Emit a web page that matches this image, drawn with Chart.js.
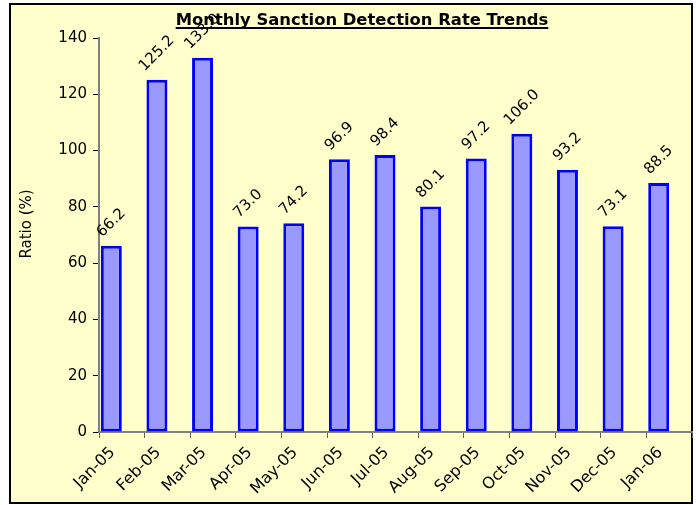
<!DOCTYPE html>
<html>
<head>
<meta charset="utf-8">
<script src="https://cdn.jsdelivr.net/npm/chart.js@4/dist/chart.umd.min.js"></script>
<style>
html,body{margin:0;padding:0;background:#fff;}
#wrap{width:696px;height:505px;position:relative;}
</style>
</head>
<body>
<div id="wrap"><canvas id="c" width="696" height="505"></canvas></div>
<script>
const categories = ['Jan-05','Feb-05','Mar-05','Apr-05','May-05','Jun-05','Jul-05','Aug-05','Sep-05','Oct-05','Nov-05','Dec-05','Jan-06'];
const ratioValues = [66.2,125.2,133.0,73.0,74.2,96.9,98.4,80.1,97.2,106.0,93.2,73.1,88.5];
const emptySeries = [null,null,null,null,null,null,null,null,null,null,null,null,null];
const yMin = 0, yMax = 140, yStep = 20;
const chartTitle = 'Monthly Sanction Detection Rate Trends';
const yTitle = 'Ratio (%)';

const FONT = '"DejaVu Sans", Verdana, sans-serif';

const frame = {
  id: 'frame',
  beforeDraw(chart) {
    const ctx = chart.ctx;
    ctx.save();
    ctx.fillStyle = '#ffffff';
    ctx.fillRect(0, 0, chart.width, chart.height);
    ctx.fillStyle = '#FFFFCC';
    ctx.fillRect(10, 4, 682, 499);
    ctx.strokeStyle = '#000000';
    ctx.lineWidth = 2;
    ctx.strokeRect(10, 4, 682, 499);
    ctx.restore();
  },
  afterDatasetsDraw(chart) {
    const ctx = chart.ctx;
    ctx.save();
    ctx.beginPath();
    ctx.rect(11, 5, 680, 497);
    ctx.clip();
    // x category labels (positions from the library's x scale)
    const xs = chart.scales.x;
    ctx.font = '16px ' + FONT;
    ctx.fillStyle = '#000';
    ctx.textAlign = 'right';
    ctx.textBaseline = 'middle';
    categories.forEach((lab, i) => {
      const px = xs.getPixelForTick(i);
      ctx.save();
      ctx.translate(px - 9, xs.top + 18);
      ctx.rotate(-Math.PI / 4);
      ctx.fillText(lab, 0, 0);
      ctx.restore();
    });
    // data labels
    const meta = chart.getDatasetMeta(0);
    ctx.font = '15px ' + FONT;
    ctx.textAlign = 'center';
    ctx.textBaseline = 'middle';
    meta.data.forEach((bar, i) => {
      const txt = ratioValues[i].toFixed(1);
      const w = ctx.measureText(txt).width;
      const h = 14;
      const cy = bar.y - 6 - (w + h) * 0.7071 / 2;
      ctx.save();
      ctx.translate(bar.x, cy);
      ctx.rotate(-Math.PI / 4);
      ctx.fillText(txt, 0, 0);
      ctx.restore();
    });
    // title
    ctx.font = 'bold 16.4px ' + FONT;
    ctx.textAlign = 'center';
    ctx.textBaseline = 'alphabetic';
    const tx = 362, ty = 25;
    ctx.fillText(chartTitle, tx, ty);
    const tw = ctx.measureText(chartTitle).width;
    ctx.fillRect(tx - tw / 2, 27, tw, 2);
    // y title
    ctx.save();
    ctx.translate(27, 224);
    ctx.rotate(-Math.PI / 2);
    ctx.font = '15px ' + FONT;
    ctx.textAlign = 'center';
    ctx.textBaseline = 'middle';
    ctx.fillText(yTitle, 0, 0);
    ctx.restore();
    ctx.restore();
  }
};

new Chart(document.getElementById('c'), {
  type: 'bar',
  data: {
    labels: categories,
    datasets: [
      { label: 'Ratio', data: ratioValues, backgroundColor: '#9999FF', borderColor: '#0000FF', borderWidth: 3, borderSkipped: false },
      { label: '', data: emptySeries, backgroundColor: 'rgba(0,0,0,0)' }
    ]
  },
  options: {
    responsive: false,
    animation: false,
    devicePixelRatio: 1,
    categoryPercentage: 0.92,
    barPercentage: 1.0,
    layout: { padding: { top: 38, right: 4, left: 0, bottom: 0 } },
    plugins: { legend: { display: false }, tooltip: { enabled: false }, title: { display: false } },
    scales: {
      x: {
        grid: { drawOnChartArea: false, drawTicks: true, tickLength: 6, color: '#606060', offset: true },
        border: { color: '#808080', width: 2 },
        ticks: { display: false, autoSkip: false },
        afterFit: s => { s.height = 73; }
      },
      y: {
        min: yMin, max: yMax,
        grid: { drawOnChartArea: false, drawTicks: true, tickLength: 6, color: '#000' },
        border: { color: '#808080', width: 2 },
        ticks: { stepSize: yStep, font: { family: FONT, size: 15 }, color: '#000', padding: 6 },
        afterFit: s => { s.width = 99; }
      }
    }
  },
  plugins: [frame]
});
</script>
</body>
</html>
